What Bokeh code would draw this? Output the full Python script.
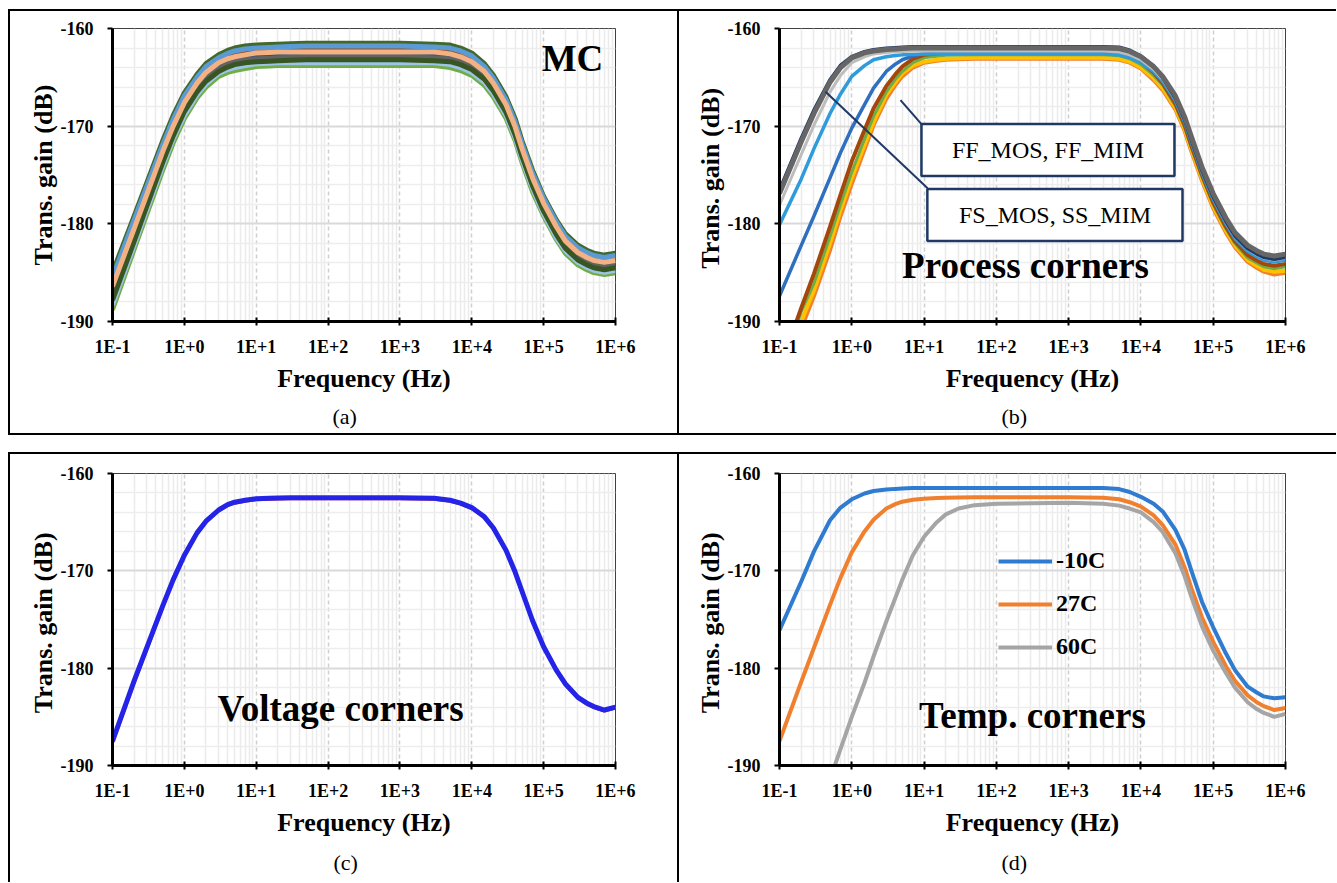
from bokeh.plotting import figure
from bokeh.layouts import column, row
from bokeh.models import (FixedTicker, CustomJSTickFormatter, Label, BoxAnnotation, Arrow,
                          Legend, LegendItem, Range1d, Title)
from bokeh.embed import file_html
from bokeh.resources import INLINE

# ---------------- data ----------------
FREQ = [0.1, 0.2, 0.3, 0.5, 0.7, 1, 1.5, 2, 3, 4, 5, 7, 10, 15, 20, 30, 50, 100, 1e3, 3e3, 5e3, 7e3,
        1e4, 1.5e4, 2e4, 3e4, 4e4, 5e4, 7e4, 1e5, 1.5e5, 2e5, 3e5, 4e5, 5e5, 7e5, 1e6]
X_TICKS = [0.1, 1, 10, 100, 1e3, 1e4, 1e5, 1e6]
X_TICK_LABELS = ["1E-1", "1E+0", "1E+1", "1E+2", "1E+3", "1E+4", "1E+5", "1E+6"]
Y_TICKS = [-190, -180, -170, -160]
Y_TICK_LABELS = ["-190", "-180", "-170", "-160"]

# (a) Monte Carlo runs
MC_1 = [-185.0, -179.2, -175.8, -171.5, -168.9, -166.6, -164.7, -163.6, -162.7, -162.25, -162.0, -161.8, -161.7, -161.65, -161.6, -161.55, -161.5, -161.5, -161.5,
        -161.6, -161.7, -162.0, -162.5, -163.6, -164.8, -167.0, -169.2, -171.5, -174.5, -177.2, -179.6, -181.0, -182.2, -182.7, -183.0, -183.2, -183.0]
MC_2 = [-185.5, -179.6, -176.2, -171.9, -169.3, -166.9, -165.0, -163.9, -163.0, -162.55, -162.3, -162.1, -162.0, -161.95, -161.9, -161.85, -161.8, -161.8, -161.8,
        -161.9, -162.0, -162.3, -162.8, -163.9, -165.1, -167.3, -169.55, -171.8, -174.8, -177.4, -179.8, -181.25, -182.45, -182.95, -183.25, -183.45, -183.25]
MC_3 = [-186.0, -180.0, -176.6, -172.3, -169.6, -167.3, -165.3, -164.2, -163.2, -162.8, -162.6, -162.4, -162.2, -162.15, -162.1, -162.1, -162.1, -162.1, -162.1,
        -162.1, -162.3, -162.6, -163.1, -164.2, -165.4, -167.6, -169.85, -172.1, -175.1, -177.7, -180.1, -181.5, -182.7, -183.2, -183.5, -183.7, -183.5]
MC_4 = [-186.4, -180.5, -177.0, -172.6, -170.0, -167.6, -165.6, -164.5, -163.5, -163.1, -162.9, -162.7, -162.5, -162.45, -162.4, -162.4, -162.4, -162.4, -162.4,
        -162.4, -162.6, -162.9, -163.4, -164.4, -165.6, -167.8, -170.05, -172.3, -175.3, -177.9, -180.3, -181.75, -182.95, -183.45, -183.75, -183.95, -183.75]
MC_5 = [-186.9, -180.9, -177.4, -173.0, -170.3, -167.9, -165.9, -164.8, -163.8, -163.4, -163.15, -162.95, -162.8, -162.75, -162.7, -162.68, -162.65, -162.65, -162.65,
        -162.7, -162.85, -163.15, -163.65, -164.7, -165.9, -168.1, -170.35, -172.6, -175.6, -178.2, -180.6, -182.0, -183.2, -183.7, -184.0, -184.2, -184.0]
MC_6 = [-187.4, -181.3, -177.8, -173.4, -170.6, -168.2, -166.2, -165.1, -164.1, -163.65, -163.4, -163.2, -163.1, -163.05, -163.0, -162.95, -162.9, -162.9, -162.9,
        -163.0, -163.1, -163.4, -163.9, -165.0, -166.2, -168.4, -170.65, -172.9, -175.9, -178.5, -180.9, -182.25, -183.45, -183.95, -184.25, -184.45, -184.25]
MC_7 = [-187.8, -181.8, -178.2, -173.7, -171.0, -168.5, -166.5, -165.4, -164.4, -163.95, -163.7, -163.5, -163.4, -163.35, -163.3, -163.25, -163.2, -163.2, -163.2,
        -163.3, -163.4, -163.7, -164.2, -165.2, -166.4, -168.6, -170.85, -173.1, -176.1, -178.7, -181.1, -182.5, -183.7, -184.2, -184.5, -184.7, -184.5]
MC_8 = [-188.3, -182.2, -178.6, -174.1, -171.3, -168.9, -166.8, -165.7, -164.6, -164.2, -164.0, -163.8, -163.6, -163.55, -163.5, -163.5, -163.5, -163.5, -163.5,
        -163.5, -163.7, -164.0, -164.5, -165.5, -166.7, -168.9, -171.15, -173.4, -176.4, -179.0, -181.4, -182.75, -183.95, -184.45, -184.75, -184.95, -184.75]
MC_9 = [-188.8, -182.6, -179.0, -174.5, -171.7, -169.2, -167.1, -166.0, -164.9, -164.5, -164.3, -164.1, -163.9, -163.85, -163.8, -163.8, -163.8, -163.8, -163.8,
        -163.8, -164.0, -164.3, -164.8, -165.8, -167.0, -169.2, -171.45, -173.7, -176.7, -179.2, -181.6, -183.0, -184.2, -184.7, -185.0, -185.2, -185.0]

# (b) process corners
P_ORANGE = [-197.0, -190.7, -187.4, -182.7, -179.2, -175.9, -172.4, -169.9, -167.2, -165.8, -164.9, -164.0, -163.5, -163.3, -163.2, -163.15, -163.1, -163.1, -163.1,
            -163.1, -163.2, -163.5, -164.1, -165.3, -166.3, -168.3, -170.45, -172.6, -175.6, -178.4, -180.9, -182.4, -183.9, -184.5, -184.9, -185.2, -185.0]
P_GOLD = [-196.3, -190.0, -186.8, -182.0, -178.6, -175.3, -171.9, -169.6, -166.8, -165.5, -164.6, -163.8, -163.4, -163.2, -163.1, -163.05, -163.0, -163.0, -163.0,
          -163.0, -163.1, -163.4, -164.0, -165.1, -166.1, -168.1, -170.25, -172.4, -175.4, -178.2, -180.7, -182.2, -183.7, -184.3, -184.7, -184.9, -184.8]
P_GREEN = [-195.3, -189.0, -186.1, -181.3, -178.0, -174.7, -171.3, -169.0, -166.5, -165.2, -164.4, -163.5, -163.0, -162.85, -162.75, -162.72, -162.7, -162.7, -162.7,
           -162.7, -162.8, -163.1, -163.7, -164.8, -165.8, -167.9, -170.05, -172.2, -175.2, -178.0, -180.5, -182.0, -183.5, -184.0, -184.4, -184.6, -184.4]
P_BROWN = [-194.9, -188.6, -185.1, -180.3, -177.0, -173.6, -170.4, -168.2, -165.9, -164.7, -163.9, -163.1, -162.7, -162.55, -162.45, -162.42, -162.4, -162.4, -162.4,
           -162.4, -162.5, -162.85, -163.4, -164.5, -165.6, -167.7, -169.85, -172.0, -175.0, -177.8, -180.3, -181.8, -183.2, -183.75, -184.1, -184.3, -184.1]
P_MBLUE = [-187.4, -182.2, -179.2, -175.3, -172.7, -170.2, -167.8, -166.1, -164.4, -163.65, -163.2, -162.8, -162.6, -162.53, -162.5, -162.5, -162.5, -162.5, -162.5,
           -162.5, -162.6, -162.9, -163.4, -164.3, -165.3, -167.3, -169.45, -171.6, -174.7, -177.4, -179.9, -181.4, -182.7, -183.25, -183.6, -183.8, -183.6]
P_LBLUE = [-180.1, -175.4, -172.3, -168.7, -166.7, -164.9, -163.8, -163.2, -162.9, -162.77, -162.7, -162.65, -162.6, -162.6, -162.6, -162.6, -162.6, -162.6, -162.6,
           -162.6, -162.7, -163.0, -163.5, -164.4, -165.4, -167.4, -169.55, -171.7, -174.8, -177.5, -180.0, -181.5, -182.8, -183.35, -183.7, -183.9, -183.7]
P_LGRAY = [-178.1, -172.9, -169.9, -166.5, -164.8, -163.5, -162.9, -162.6, -162.45, -162.39, -162.35, -162.3, -162.3, -162.3, -162.3, -162.3, -162.3, -162.3, -162.3,
           -162.3, -162.4, -162.7, -163.2, -164.2, -165.2, -167.2, -169.35, -171.5, -174.6, -177.3, -179.8, -181.3, -182.6, -183.15, -183.5, -183.7, -183.5]
P_NAVY = [-176.6, -171.3, -168.4, -165.3, -163.8, -162.9, -162.4, -162.2, -162.05, -162.0, -161.95, -161.9, -161.9, -161.9, -161.9, -161.9, -161.9, -161.9, -161.9,
          -161.9, -161.95, -162.25, -162.85, -163.9, -165.0, -167.1, -169.25, -171.4, -174.5, -177.2, -179.7, -181.2, -182.5, -183.05, -183.4, -183.6, -183.4]
P_DGRAY = [-176.9, -171.6, -168.7, -165.5, -164.0, -163.0, -162.5, -162.3, -162.15, -162.1, -162.05, -162.0, -162.0, -162.0, -162.0, -162.0, -162.0, -162.0, -162.0,
           -162.0, -162.05, -162.35, -162.9, -163.9, -164.9, -166.9, -169.0, -171.1, -174.2, -176.9, -179.4, -180.9, -182.2, -182.75, -183.1, -183.3, -183.1]
CALLOUTS = ["FF_MOS, FF_MIM", "FS_MOS, SS_MIM"]

# (c) voltage corners
V_RED = [-187.7, -181.5, -178.1, -173.75, -171.0, -168.5, -166.2, -165.0, -163.85, -163.3, -163.05, -162.85, -162.7, -162.65, -162.62, -162.6, -162.6, -162.6, -162.6,
         -162.65, -162.85, -163.15, -163.6, -164.55, -165.7, -168.0, -170.2, -172.2, -175.2, -177.9, -180.3, -181.7, -183.1, -183.7, -184.05, -184.4, -184.1]
V_BLUE = [-187.5, -181.3, -177.9, -173.6, -170.9, -168.4, -166.1, -164.9, -163.75, -163.2, -162.95, -162.75, -162.6, -162.55, -162.52, -162.5, -162.5, -162.5, -162.5,
          -162.55, -162.75, -163.05, -163.5, -164.45, -165.6, -167.9, -170.1, -172.1, -175.1, -177.8, -180.2, -181.6, -183.0, -183.6, -183.95, -184.3, -184.0]

# (d) temperature corners
TEMP_LABELS = ["-10C", "27C", "60C"]
T_M10 = [-176.1, -171.1, -168.0, -164.8, -163.5, -162.65, -162.05, -161.8, -161.65, -161.58, -161.55, -161.5, -161.5, -161.5, -161.5, -161.5, -161.5, -161.5, -161.5,
         -161.5, -161.6, -161.9, -162.4, -163.1, -163.9, -165.8, -167.8, -170.0, -173.2, -175.8, -178.5, -180.2, -181.9, -182.5, -182.9, -183.1, -183.0]
T_27 = [-187.5, -181.4, -177.9, -173.5, -170.7, -168.1, -165.95, -164.75, -163.6, -163.15, -162.9, -162.7, -162.6, -162.52, -162.48, -162.46, -162.45, -162.45, -162.45,
        -162.5, -162.65, -162.95, -163.4, -164.3, -165.3, -167.3, -169.6, -171.8, -174.8, -177.3, -179.8, -181.3, -182.8, -183.5, -183.9, -184.3, -184.1]
T_60 = [-205.4, -199.3, -195.8, -191.4, -188.3, -185.0, -181.5, -178.8, -175.2, -172.8, -170.9, -168.4, -166.5, -165.0, -164.2, -163.6, -163.25, -163.1, -163.0,
        -163.1, -163.3, -163.6, -164.0, -165.0, -166.0, -168.2, -170.5, -172.7, -175.7, -178.2, -180.5, -182.0, -183.5, -184.2, -184.6, -185.0, -184.7]

for arr in (MC_1, MC_2, MC_3, MC_4, MC_5, MC_6, MC_7, MC_8, MC_9, P_ORANGE, P_GOLD, P_GREEN, P_BROWN,
            P_MBLUE, P_LBLUE, P_LGRAY, P_NAVY, P_DGRAY, V_RED, V_BLUE, T_M10, T_27, T_60):
    assert len(arr) == len(FREQ)

# ---------------- styling helpers ----------------
FONT = "Liberation Serif"
MINOR_X = [k * 10.0 ** e for e in range(-1, 6) for k in range(2, 10)]
MINOR_Y = [v for v in range(-190, -159, 2) if v % 10 != 0]
MAP_CODE = """
    for (let i = 0; i < vals.length; i++) {
        if (Math.abs(tick - vals[i]) <= 1e-6 * Math.max(1, Math.abs(vals[i]))) { return labs[i]; }
    }
    return "";
"""


def base_fig(w, h, bl, br, bt, bb, ylabel):
    p = figure(width=w, height=h, x_axis_type="log",
               x_range=Range1d(0.1, 1e6), y_range=Range1d(-190, -160),
               output_backend="svg", toolbar_location=None,
               min_border_left=bl, min_border_right=br, min_border_top=bt, min_border_bottom=bb)
    p.background_fill_color = "white"
    p.border_fill_color = None
    p.outline_line_color = "#404040"
    p.outline_line_width = 1
    p.xaxis.ticker = FixedTicker(ticks=X_TICKS, minor_ticks=MINOR_X)
    p.xaxis.formatter = CustomJSTickFormatter(args=dict(vals=X_TICKS, labs=X_TICK_LABELS), code=MAP_CODE)
    p.yaxis.ticker = FixedTicker(ticks=Y_TICKS, minor_ticks=MINOR_Y)
    p.yaxis.formatter = CustomJSTickFormatter(args=dict(vals=Y_TICKS, labs=Y_TICK_LABELS), code=MAP_CODE)
    for ax in (p.xaxis[0], p.yaxis[0]):
        ax.axis_line_color = "black"
        ax.axis_line_width = 3
        ax.major_tick_line_color = "black"
        ax.major_tick_line_width = 2
        ax.minor_tick_in = 0
        ax.minor_tick_out = 0
        ax.major_label_text_font = FONT
        ax.major_label_text_font_style = "bold"
        ax.major_label_text_font_size = "18px"
        ax.major_label_text_color = "black"
        ax.axis_label_text_font = FONT
        ax.axis_label_text_font_style = "bold"
        ax.axis_label_text_font_size = "26px"
        ax.axis_label_text_color = "black"
    p.xaxis.major_tick_in = 4
    p.xaxis.major_tick_out = 4
    p.xaxis.major_label_standoff = 11
    p.xaxis.axis_label = "Frequency (Hz)"
    p.xaxis.axis_label_standoff = 4
    p.yaxis.major_tick_in = 0
    p.yaxis.major_tick_out = 5
    p.yaxis.major_label_standoff = 14
    p.yaxis.axis_label = ylabel
    p.yaxis.axis_label_standoff = 0
    p.xgrid.grid_line_color = "#CFCFCF"
    p.xgrid.grid_line_dash = "4 3"
    p.xgrid.grid_line_width = 1.5
    p.xgrid.minor_grid_line_color = "#EBEBEB"
    p.xgrid.minor_grid_line_width = 1.5
    p.ygrid.grid_line_color = "#D9D9D9"
    p.ygrid.grid_line_width = 2
    p.ygrid.minor_grid_line_color = "#EDEDED"
    p.ygrid.minor_grid_line_width = 1.5
    return p


def panel_rules(p, rects):
    # black rules of the panel frame, drawn behind the (transparent) canvas border
    imgs = ", ".join(["linear-gradient(#000, #000)"] * len(rects))
    sizes = ", ".join(f"{w}px {h}px" for (x, y, w, h) in rects)
    poss = ", ".join(f"{x}px {y}px" for (x, y, w, h) in rects)
    p.styles = {"background-color": "white", "background-image": imgs,
                "background-size": sizes, "background-position": poss,
                "background-repeat": "no-repeat"}


def caption(p, text, offset, standoff):
    p.add_layout(Title(text=text, align="left", offset=offset, text_font=FONT,
                       text_font_size="22px", text_font_style="normal",
                       text_color="black", standoff=standoff), "below")


def big_text(p, x, y, text):
    p.add_layout(Label(x=x, y=y, text=text, text_font=FONT, text_font_style="bold",
                       text_font_size="37px", text_align="center", text_baseline="middle",
                       text_color="black"))


W_L, W_R = 680, 656
H_T, H_B = 444, 438

# ---------------- (a) MC ----------------
pa = base_fig(W_L, H_T, 112, 65, 28, 123, "Trans. gain (dB)")
mc_layers = [(MC_1, "#43682B"), (MC_3, "#9E480E"), (MC_5, "#1F4E79"), (MC_9, "#70AD47"),
             (MC_8, "#9DC3E6"), (MC_6, "#636363"), (MC_7, "#375623"), (MC_2, "#5B9BD5"),
             (MC_4, "#F4B183")]
for arr, col in mc_layers:
    pa.line(FREQ, arr, line_color=col, line_width=5, line_join="round")
big_text(pa, 2.52e5, -163.1, "MC")
caption(pa, "(a)", 220, 12)
panel_rules(pa, [(8, 9, 2, 426), (8, 9, 672, 2), (8, 433, 672, 2), (677, 9, 2, 426)])

# ---------------- (b) process corners ----------------
pb = base_fig(W_R, H_T, 99, 51, 28, 123, "Trans. gain  (dB)")
for arr, col, lw in [(P_ORANGE, "#F07F2E", 4), (P_GOLD, "#FFC000", 4), (P_GREEN, "#70AD47", 3),
                     (P_BROWN, "#A5470D", 4), (P_MBLUE, "#2E6FBF", 3.5), (P_LBLUE, "#2F9BDB", 3.5),
                     (P_LGRAY, "#BDBDBD", 3), (P_NAVY, "#1F3864", 4), (P_DGRAY, "#666666", 5)]:
    pb.line(FREQ, arr, line_color=col, line_width=lw, line_join="round")
NAVY = "#1F3864"
pb.add_layout(Arrow(end=None, x_start=4.72, y_start=-167.33, x_end=9.2, y_end=-169.79,
                    line_color=NAVY, line_width=2))
pb.add_layout(Arrow(end=None, x_start=0.433, y_start=-166.48, x_end=11.2, y_end=-176.36,
                    line_color=NAVY, line_width=2))
pb.add_layout(BoxAnnotation(left=9.2, right=29100, top=-169.79, bottom=-175.1,
                            fill_color="white", fill_alpha=1, line_color=NAVY, line_alpha=1,
                            line_width=2.5))
pb.add_layout(BoxAnnotation(left=11.1, right=37600, top=-176.43, bottom=-181.75,
                            fill_color="white", fill_alpha=1, line_color=NAVY, line_alpha=1,
                            line_width=2.5))
for x, y, t in [(517, -172.44, CALLOUTS[0]), (647, -179.09, CALLOUTS[1])]:
    pb.add_layout(Label(x=x, y=y, text=t, text_font=FONT, text_font_size="24px",
                        text_align="center", text_baseline="middle", text_color="black"))
big_text(pb, 253, -184.3, "Process corners")
caption(pb, "(b)", 222, 12)
panel_rules(pb, [(0, 9, W_R, 2), (0, 433, W_R, 2)])

# ---------------- (c) voltage corners ----------------
pc = base_fig(W_L, H_B, 112, 65, 29, 116, "Trans. gain  (dB)")
pc.line(FREQ, V_RED, line_color="#D03030", line_width=3, line_join="round")
pc.line(FREQ, V_BLUE, line_color="#2424E8", line_width=5, line_join="round")
big_text(pc, 149, -184.1, "Voltage corners")
caption(pc, "(c)", 221, 16)
panel_rules(pc, [(8, 8, 2, H_B), (8, 8, 672, 2), (677, 8, 2, H_B)])

# ---------------- (d) temperature corners ----------------
pd_ = base_fig(W_R, H_B, 99, 51, 29, 116, "Trans. gain  (dB)")
r1 = pd_.line(FREQ, T_M10, line_color="#2E7BCF", line_width=4, line_join="round")
r2 = pd_.line(FREQ, T_27, line_color="#F07F2E", line_width=4, line_join="round")
r3 = pd_.line(FREQ, T_60, line_color="#A5A5A5", line_width=4, line_join="round")
legend = Legend(items=[LegendItem(label=TEMP_LABELS[0], renderers=[r1]),
                       LegendItem(label=TEMP_LABELS[1], renderers=[r2]),
                       LegendItem(label=TEMP_LABELS[2], renderers=[r3])],
                location=(219, 105), glyph_width=54, glyph_height=26, label_height=26,
                spacing=16, padding=0, margin=0, label_standoff=4,
                border_line_alpha=0, background_fill_alpha=0,
                label_text_font=FONT, label_text_font_style="bold", label_text_font_size="24px",
                label_text_color="black")
pd_.add_layout(legend)
big_text(pd_, 316, -184.9, "Temp. corners")
caption(pd_, "(d)", 222, 16)
panel_rules(pd_, [(0, 8, W_R, 2)])

layout = column(row(pa, pb), row(pc, pd_))
open("out.html", "w").write(file_html(layout, INLINE))
